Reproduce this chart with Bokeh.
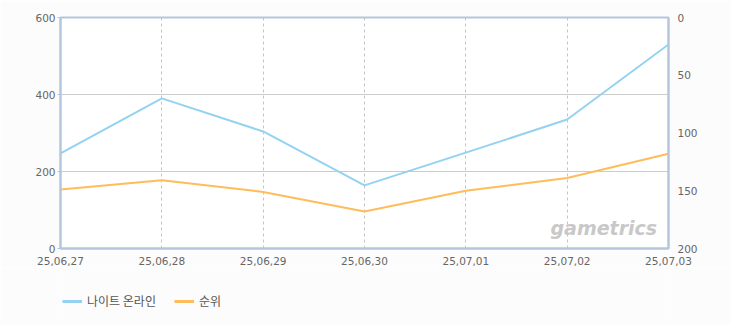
from bokeh.plotting import figure
from bokeh.layouts import column
from bokeh.models import (Range1d, LinearAxis, FixedTicker, Legend, LegendItem, Label)
from bokeh.embed import file_html
from bokeh.resources import INLINE

dates = ["25,06,27", "25,06,28", "25,06,29", "25,06,30", "25,07,01", "25,07,02", "25,07,03"]
users = [247, 390, 304, 164, 249, 335, 530]
rank = [149, 141, 151, 168, 150, 139, 118]
series_names = ["나이트 온라인", "순위"]
left_ticks = [0, 200, 400, 600]
right_ticks = [0, 50, 100, 150, 200]
colors = ["#94d2f2", "#ffbc5a"]

xs = list(range(len(dates)))

p = figure(width=730, height=267, output_backend="svg", toolbar_location=None,
           x_range=Range1d(0, len(dates) - 1), y_range=Range1d(0, 600),
           min_border_left=60, min_border_right=62, min_border_top=17, min_border_bottom=10)
p.border_fill_color = "#fcfcfc"
p.background_fill_color = "#ffffff"
p.outline_line_color = "#b4c6dc"
p.outline_line_width = 2

p.extra_y_ranges = {"rank": Range1d(200, 0)}

# axes
p.xaxis.ticker = FixedTicker(ticks=xs)
p.xaxis.major_label_overrides = {i: d for i, d in enumerate(dates)}
p.yaxis.ticker = FixedTicker(ticks=left_ticks)
for ax in [p.xaxis[0], p.yaxis[0]]:
    ax.axis_line_color = "#b4c6dc"
    ax.axis_line_width = 2
    ax.major_tick_line_color = "#b4c6dc"
    ax.major_tick_out = 3
    ax.major_tick_in = 0
    ax.minor_tick_line_color = None
    ax.major_label_text_font = "DejaVu Sans"
    ax.major_label_text_font_size = "10.5px"
    ax.major_label_text_color = "#666666"
    ax.major_label_standoff = 2
p.xaxis.major_tick_line_color = None
p.xaxis.major_label_standoff = 5

ry = LinearAxis(y_range_name="rank", ticker=FixedTicker(ticks=right_ticks))
ry.axis_line_color = "#b4c6dc"
ry.axis_line_width = 2
ry.major_tick_line_color = None
ry.minor_tick_line_color = None
ry.major_label_text_font = "DejaVu Sans"
ry.major_label_text_font_size = "10.5px"
ry.major_label_text_color = "#666666"
ry.major_label_standoff = 3
p.add_layout(ry, "right")

# grids
p.xgrid.ticker = FixedTicker(ticks=xs[1:-1])
p.xgrid.grid_line_color = "#c4c4c4"
p.xgrid.grid_line_dash = "3 3"
p.ygrid.ticker = FixedTicker(ticks=[200, 400])
p.ygrid.grid_line_color = "#cccccc"

# watermark
p.add_layout(Label(x=490, y=10, x_units="screen", y_units="screen", text="gametrics",
                   text_font="DejaVu Sans", text_font_style="bold italic",
                   text_font_size="19px", text_color="#c8c8c8"))

p.line(xs, users, line_color=colors[0], line_width=2)
p.line(xs, rank, y_range_name="rank", line_color=colors[1], line_width=2)

# legend strip
lf = figure(width=730, height=58, output_backend="svg", toolbar_location=None,
            x_range=Range1d(0, 1), y_range=Range1d(0, 1),
            min_border=0, min_border_left=0, min_border_right=0,
            min_border_top=0, min_border_bottom=0,
            x_axis_type=None, y_axis_type=None)
lf.border_fill_color = "#fcfcfc"
lf.background_fill_color = "#fcfcfc"
lf.outline_line_color = None
lf.grid.visible = False
# offscreen renderers used only for legend swatches
r1 = lf.line(xs, [v + 10000 for v in users], line_color=colors[0], line_width=3)
r2 = lf.line(xs, [v + 10000 for v in rank], line_color=colors[1], line_width=3)

legend = Legend(items=[LegendItem(label=series_names[0], renderers=[r1]),
                       LegendItem(label=series_names[1], renderers=[r2])],
                orientation="horizontal", location=(2, 16))
legend.label_text_font = "Noto Sans CJK KR"
legend.label_text_font_size = "12px"
legend.label_text_color = "#555555"
legend.background_fill_alpha = 0
legend.border_line_color = None
legend.glyph_width = 20
legend.glyph_height = 10
legend.label_standoff = 5
legend.spacing = 18
legend.padding = 0
legend.margin = 0
legend.label_height = 14
lf.add_layout(legend, "center")

layout = column(p, lf, spacing=0)
open("out.html", "w").write(file_html(layout, INLINE))
